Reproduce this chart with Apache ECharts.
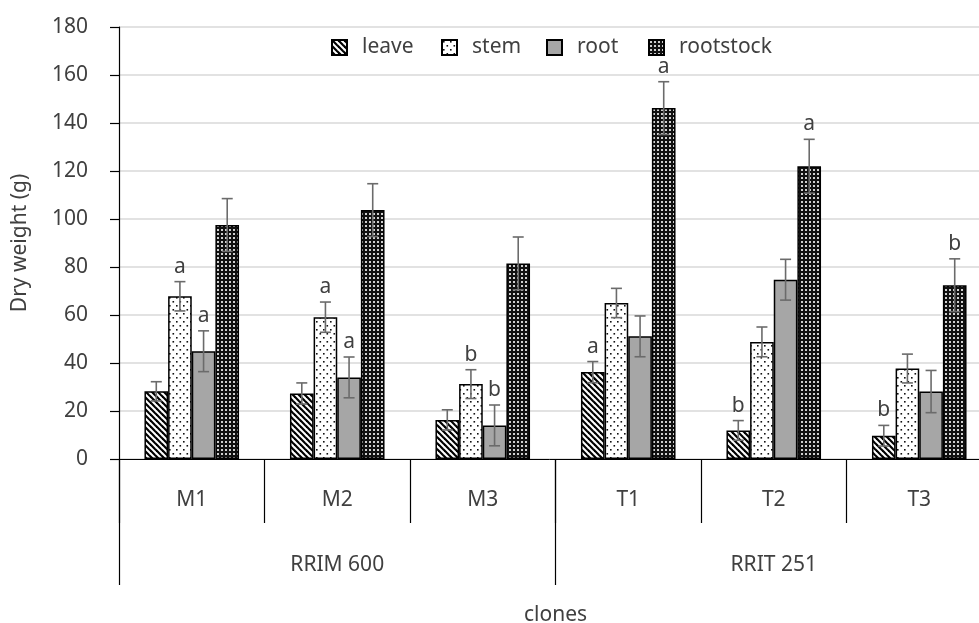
<!DOCTYPE html>
<html>
<head>
<meta charset="utf-8">
<script src="https://cdn.jsdelivr.net/npm/echarts@6/dist/echarts.min.js"></script>
<style>
  html, body { margin: 0; padding: 0; background: #fff; }
  #chart { width: 979px; height: 623px; }
</style>
</head>
<body>
<div id="chart"></div>
<script>
// Clones and their rootstock groups
const clones = ['M1', 'M2', 'M3', 'T1', 'T2', 'T3'];
const groups = ['RRIM 600', 'RRIT 251'];
const seriesNames = ['leave', 'stem', 'root', 'rootstock'];

// Dry weight (g) per plant part, with error bar half-widths
const leaveVals = [28.2, 27.3, 16.3, 36.2, 11.9, 9.7];
const leaveErr = [4.0, 4.4, 4.2, 4.4, 4.1, 4.3];
const stemVals = [67.8, 59.1, 31.2, 65.0, 48.8, 37.7];
const stemErr = [6.1, 6.3, 6.0, 6.1, 6.2, 6.0];
const rootVals = [44.9, 34.0, 14.0, 51.1, 74.7, 28.1];
const rootErr = [8.5, 8.5, 8.5, 8.5, 8.5, 8.8];
const rootstockVals = [97.5, 103.7, 81.5, 146.2, 122.0, 72.4];
const rootstockErr = [11.0, 11.0, 11.0, 11.0, 11.2, 11.0];

// Significance letters above each bar ('' = none)
const leaveLetters = ['', '', '', 'a', 'b', 'b'];
const stemLetters = ['a', 'a', 'b', '', '', ''];
const rootLetters = ['a', 'a', 'b', '', '', ''];
const rootstockLetters = ['', '', '', 'a', 'a', 'b'];

// Y axis ticks
const yMin = 0, yMax = 180, yStep = 20;

const allVals = [leaveVals, stemVals, rootVals, rootstockVals];
const allErr = [leaveErr, stemErr, rootErr, rootstockErr];
const allLetters = [leaveLetters, stemLetters, rootLetters, rootstockLetters];

const FONT = '"Noto Sans", sans-serif';
const FS = 21;
const TEXT = '#404040';
const CAT_GAP = 0.35;

// ---- fill patterns ----
function tile(w, h, draw) {
  const c = document.createElement('canvas');
  c.width = w; c.height = h;
  draw(c.getContext('2d'), w, h);
  return c;
}
const stripePattern = tile(6, 6, (ctx, w, h) => {
  ctx.fillStyle = '#fff'; ctx.fillRect(0, 0, w, h);
  ctx.strokeStyle = '#000'; ctx.lineWidth = 2.2;
  for (let k = -1; k <= 1; k++) {
    ctx.beginPath();
    ctx.moveTo(k * w - 1, -1);
    ctx.lineTo(k * w + w + 1, h + 1);
    ctx.stroke();
  }
});
const dotPattern = tile(7, 8, (ctx, w, h) => {
  ctx.fillStyle = '#fff'; ctx.fillRect(0, 0, w, h);
  ctx.fillStyle = '#111';
  ctx.fillRect(1, 1, 1.6, 1.6);
  ctx.fillRect(4.5, 5, 1.6, 1.6);
});
const gridDotPattern = tile(4, 4, (ctx, w, h) => {
  ctx.fillStyle = '#111'; ctx.fillRect(0, 0, w, h);
  ctx.fillStyle = '#d0d0d0';
  ctx.fillRect(1, 1, 2, 2);
});
const fills = [
  { image: stripePattern, repeat: 'repeat' },
  { image: dotPattern, repeat: 'repeat' },
  '#a6a6a6',
  { image: gridDotPattern, repeat: 'repeat' }
];

const barSeries = seriesNames.map((name, i) => ({
  name: name,
  type: 'bar',
  xAxisIndex: 0,
  yAxisIndex: 0,
  barGap: '0%',
  barCategoryGap: (CAT_GAP * 100) + '%',
  data: allVals[i],
  itemStyle: { color: fills[i], borderColor: '#000', borderWidth: 1.5 },
  emphasis: { disabled: true }
}));

// error bars and letters, positioned over the matching bar
const errSeries = seriesNames.map((name, i) => ({
  name: name + '-err',
  type: 'custom',
  xAxisIndex: 0,
  yAxisIndex: 0,
  z: 5,
  silent: true,
  data: clones.map((c, j) => [j, allVals[i][j], allErr[i][j]]),
  encode: { x: 0, y: 1 },
  renderItem: function (params, api) {
    const j = api.value(0), v = api.value(1), e = api.value(2);
    const band = api.size([1, 0])[0];
    const bw = band * (1 - CAT_GAP) / 4;
    const cx = api.coord([j, v])[0] + (i - 1.5) * bw;
    const yTop = api.coord([j, v + e])[1];
    const yBot = api.coord([j, v - e])[1];
    const cap = 5.5;
    const st = { stroke: '#6b6b6b', lineWidth: 1.6 };
    const children = [
      { type: 'line', shape: { x1: cx, y1: yTop, x2: cx, y2: yBot }, style: st },
      { type: 'line', shape: { x1: cx - cap, y1: yTop, x2: cx + cap, y2: yTop }, style: st },
      { type: 'line', shape: { x1: cx - cap, y1: yBot, x2: cx + cap, y2: yBot }, style: st }
    ];
    const letter = allLetters[i][params.dataIndex];
    if (letter) {
      children.push({
        type: 'text',
        style: {
          x: cx, y: yTop - 15, text: letter,
          align: 'center', verticalAlign: 'middle',
          fill: TEXT, font: FS + 'px ' + FONT
        }
      });
    }
    return { type: 'group', children: children };
  }
}));

// one legend block per series, placed along the top
const legendLefts = [331, 441, 546, 648];
const legends = seriesNames.map((name, i) => ({
  data: [name],
  left: legendLefts[i],
  top: 37,
  padding: 0,
  itemWidth: 15,
  itemHeight: 15,
  icon: 'rect',
  textStyle: { fontSize: FS, color: TEXT, fontFamily: FONT, padding: [0, 0, 0, 10] },
  selectedMode: false
}));

const chart = echarts.init(document.getElementById('chart'), null, { renderer: 'canvas' });
chart.setOption({
  animation: false,
  textStyle: { fontFamily: FONT },
  grid: { left: 119, top: 27, width: 873, height: 432, containLabel: false, outerBoundsMode: 'none' },
  legend: legends,
  xAxis: [
    {
      type: 'category',
      data: clones,
      position: 'bottom',
      axisLine: { show: true, lineStyle: { color: '#000', width: 1 } },
      axisTick: { show: true, interval: 0, length: 64, lineStyle: { color: '#000', width: 1.2 } },
      axisLabel: { margin: 31, fontSize: FS, color: TEXT, fontFamily: FONT, interval: 0 },
      splitLine: { show: false }
    },
    {
      type: 'category',
      data: groups,
      position: 'bottom',
      axisLine: { show: false },
      axisTick: { show: true, interval: 0, length: 126, lineStyle: { color: '#000', width: 1.2 } },
      axisLabel: { margin: 96, fontSize: FS, color: TEXT, fontFamily: FONT, interval: 0 },
      splitLine: { show: false },
      name: 'clones',
      nameLocation: 'middle',
      nameGap: 146,
      nameTextStyle: { fontSize: FS, color: TEXT, fontFamily: FONT }
    }
  ],
  yAxis: {
    type: 'value',
    min: yMin,
    max: yMax,
    interval: yStep,
    name: 'Dry weight (g)',
    nameLocation: 'middle',
    nameGap: 88,
    nameTextStyle: { fontSize: FS, color: TEXT, fontFamily: FONT },
    axisLine: { show: true, lineStyle: { color: '#000', width: 1.2 } },
    axisTick: { show: true, length: 9, lineStyle: { color: '#000', width: 1.2 } },
    axisLabel: { margin: 31, fontSize: FS, color: TEXT, fontFamily: FONT },
    splitLine: { show: true, lineStyle: { color: '#d9d9d9', width: 1.5 } }
  },
  series: barSeries.concat(errSeries)
});
</script>
</body>
</html>
